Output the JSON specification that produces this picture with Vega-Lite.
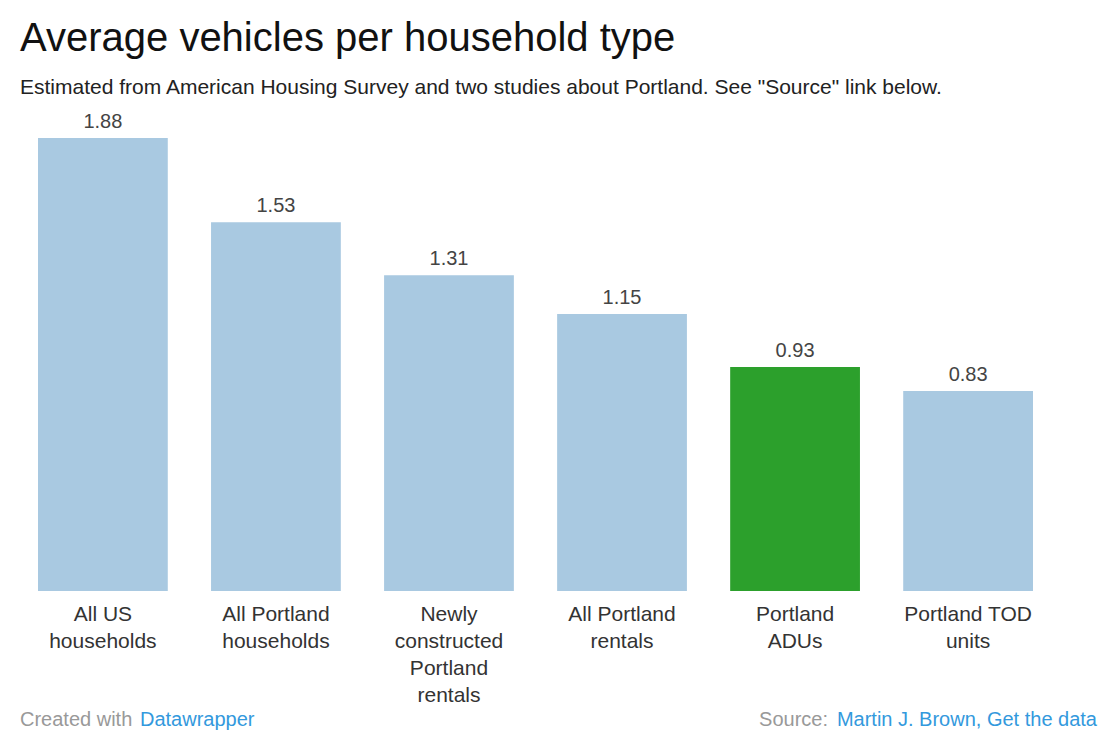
{
  "$schema": "https://vega.github.io/schema/vega-lite/v6.json",
  "width": 995,
  "height": 453,
  "autosize": {"type": "none"},
  "padding": {"left": 38, "top": 138, "right": 68, "bottom": 142},
  "background": "white",
  "title": {
    "text": "Average vehicles per household type",
    "subtitle": "Estimated from American Housing Survey and two studies about Portland. See \"Source\" link below.",
    "anchor": "start",
    "frame": "group",
    "dx": -18,
    "font": "Liberation Sans",
    "fontSize": 40,
    "fontWeight": "normal",
    "color": "#111111",
    "subtitleFont": "Liberation Sans",
    "subtitleFontSize": 21,
    "subtitleColor": "#222222",
    "subtitlePadding": 18,
    "offset": 14
  },
  "config": {
    "view": {"stroke": null},
    "font": "Liberation Sans"
  },
  "data": {
    "values": [
      {"type": "All US households", "vehicles": 1.88, "highlight": "no"},
      {"type": "All Portland households", "vehicles": 1.53, "highlight": "no"},
      {"type": "Newly constructed Portland rentals", "vehicles": 1.31, "highlight": "no"},
      {"type": "All Portland rentals", "vehicles": 1.15, "highlight": "no"},
      {"type": "Portland ADUs", "vehicles": 0.93, "highlight": "yes"},
      {"type": "Portland TOD units", "vehicles": 0.83, "highlight": "no"}
    ]
  },
  "layer": [
    {
      "mark": {"type": "bar"},
      "encoding": {
        "x": {
          "field": "type",
          "type": "nominal",
          "sort": null,
          "scale": {"paddingInner": 0.25, "paddingOuter": 0},
          "axis": {
            "title": null,
            "domain": false,
            "ticks": false,
            "labelAngle": 0,
            "labelFontSize": 21,
            "labelColor": "#333333",
            "labelPadding": 12,
            "labelLineHeight": 27,
            "labelLimit": 300,
            "labelExpr": "datum.label == 'All US households' ? ['All US', 'households'] : datum.label == 'All Portland households' ? ['All Portland', 'households'] : datum.label == 'Newly constructed Portland rentals' ? ['Newly', 'constructed', 'Portland', 'rentals'] : datum.label == 'All Portland rentals' ? ['All Portland', 'rentals'] : datum.label == 'Portland ADUs' ? ['Portland', 'ADUs'] : ['Portland TOD', 'units']"
          }
        },
        "y": {
          "field": "vehicles",
          "type": "quantitative",
          "scale": {"domain": [0, 1.88], "nice": false},
          "axis": null
        },
        "color": {
          "field": "highlight",
          "type": "nominal",
          "scale": {"domain": ["no", "yes"], "range": ["#a9c9e1", "#2ca02c"]},
          "legend": null
        }
      }
    },
    {
      "mark": {"type": "text", "baseline": "bottom", "dy": -6, "fontSize": 20, "color": "#444444"},
      "encoding": {
        "x": {"field": "type", "type": "nominal", "sort": null},
        "y": {"field": "vehicles", "type": "quantitative"},
        "text": {"field": "vehicles", "type": "quantitative", "format": ".2f"}
      }
    },
    {
      "data": {"values": [{"t": "Created with", "pos": -0.56}]},
      "mark": {"type": "text", "align": "left", "baseline": "alphabetic", "dx": -18, "fontSize": 20, "color": "#999999"},
      "encoding": {
        "x": {"datum": "All US households", "bandPosition": 0},
        "y": {"field": "pos", "type": "quantitative"},
        "text": {"field": "t", "type": "nominal"}
      }
    },
    {
      "data": {"values": [{"t": "Datawrapper", "pos": -0.56}]},
      "mark": {"type": "text", "align": "left", "baseline": "alphabetic", "dx": 102, "fontSize": 20, "color": "#3399dd"},
      "encoding": {
        "x": {"datum": "All US households", "bandPosition": 0},
        "y": {"field": "pos", "type": "quantitative"},
        "text": {"field": "t", "type": "nominal"}
      }
    },
    {
      "data": {"values": [{"t": "Martin J. Brown, Get the data", "pos": -0.56}]},
      "mark": {"type": "text", "align": "right", "baseline": "alphabetic", "dx": 64, "fontSize": 20, "color": "#3399dd"},
      "encoding": {
        "x": {"datum": "Portland TOD units", "bandPosition": 1},
        "y": {"field": "pos", "type": "quantitative"},
        "text": {"field": "t", "type": "nominal"}
      }
    },
    {
      "data": {"values": [{"t": "Source:", "pos": -0.56}]},
      "mark": {"type": "text", "align": "right", "baseline": "alphabetic", "dx": -205, "fontSize": 20, "color": "#999999"},
      "encoding": {
        "x": {"datum": "Portland TOD units", "bandPosition": 1},
        "y": {"field": "pos", "type": "quantitative"},
        "text": {"field": "t", "type": "nominal"}
      }
    }
  ]
}
